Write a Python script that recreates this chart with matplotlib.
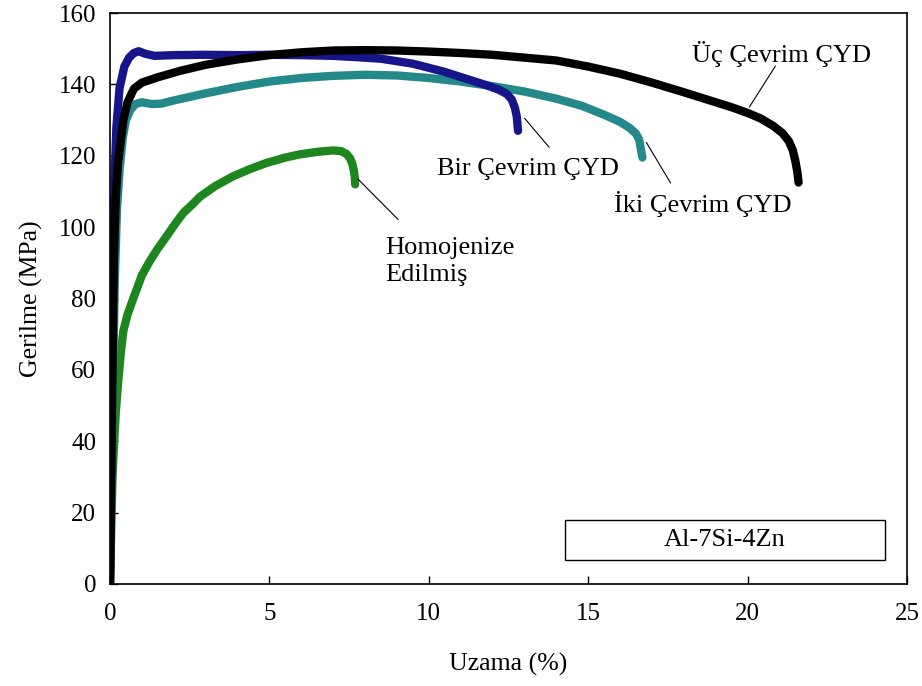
import numpy as np
import matplotlib.pyplot as plt
from matplotlib.patches import Rectangle

plt.rcParams['font.family'] = ['Liberation Serif', 'DejaVu Serif']

# Bir Cevrim CYD (blue)
bir_x = [0, 0.03, 0.06, 0.1, 0.15, 0.2, 0.3, 0.45, 0.6, 0.75, 0.9, 1.1, 1.4, 2, 3, 4, 5, 6, 7,
         7.8, 8.5, 9.5, 10.5, 11.2, 11.8, 12.2, 12.45, 12.6, 12.7, 12.76, 12.8]
bir_y = [0, 30, 60, 95, 115, 128, 139, 145, 147.5, 148.8, 149.3, 148.6, 148.0, 148.2, 148.3, 148.2,
         148.3, 148.2, 148, 147.6, 147.2, 145.8, 143.5, 141.5, 139.8, 138.5, 137.3, 135.8, 133.5,
         131, 127]

# Uc Cevrim CYD (black)
uc_x = [0, 0.04, 0.08, 0.12, 0.18, 0.25, 0.32, 0.42, 0.55, 0.75, 1.0, 1.5, 2.2, 3, 4, 5, 6, 7, 8, 9,
        10, 11, 12, 13, 14, 15, 16, 17, 18, 19, 19.5, 20, 20.4, 20.8, 21.1, 21.3, 21.42, 21.5,
        21.56, 21.6]
uc_y = [0, 30, 60, 90, 108, 118, 123, 130, 135, 138.8, 140.5, 142, 143.8, 145.5, 147, 148.2, 149,
        149.5, 149.6, 149.5, 149.2, 148.8, 148.3, 147.5, 146.7, 145, 143, 140.5, 137.8, 135, 133.6,
        132, 130.5, 128.4, 126.3, 124, 121.5, 118.5, 115.5, 112.5]

# Iki Cevrim CYD (teal)
iki_x = [0, 0.05, 0.1, 0.15, 0.22, 0.3, 0.4, 0.5, 0.65, 0.8, 1.0, 1.3, 1.6, 2, 3, 4, 5, 6, 7, 8, 9,
         10, 11, 12, 13, 14, 14.8, 15.5, 16, 16.3, 16.5, 16.6, 16.65, 16.7]
iki_y = [0, 30, 60, 85, 105, 116, 125, 130, 133, 134.5, 135, 134.5, 134.6, 135.5, 137.5, 139.3,
         140.8, 141.8, 142.4, 142.7, 142.5, 141.8, 140.8, 139.5, 138, 136, 134, 131.5, 129.5,
         127.8, 126.2, 124.5, 122, 119.5]

# Homojenize Edilmis (green)
hom_x = [0, 0.02, 0.05, 0.08, 0.12, 0.18, 0.25, 0.33, 0.42, 0.55, 0.73, 1.0, 1.25, 1.5, 1.78, 2.05,
         2.3, 2.6, 2.82, 3.3, 3.87, 4.4, 4.91, 5.5, 5.96, 6.5, 7.0, 7.25, 7.42, 7.53, 7.6, 7.65,
         7.68, 7.69]
hom_y = [0, 8, 20, 30, 38, 48, 56, 64, 71, 75.5, 80, 86.5, 90.5, 94, 97.5, 101, 104, 106.5, 108.5,
         111.5, 114.3, 116.3, 118, 119.5, 120.4, 121.1, 121.5, 121.3, 120.5, 119.3, 117.8, 115.8,
         113.8, 112]

fig = plt.figure(figsize=(9.22, 6.86), dpi=100)
ax = fig.add_axes([0.1193, 0.1487, 0.8644, 0.8323])

lw = 6
ax.plot(hom_x, hom_y, color='#1e861e', lw=lw, solid_capstyle='round', solid_joinstyle='round')
ax.plot(iki_x, iki_y, color='#23898b', lw=lw, solid_capstyle='round', solid_joinstyle='round')
ax.plot(bir_x, bir_y, color='#16168a', lw=lw, solid_capstyle='round', solid_joinstyle='round')
ax.plot(uc_x, uc_y, color='black', lw=lw, solid_capstyle='round', solid_joinstyle='round')

ax.set_xlim(0, 25)
ax.set_ylim(0, 160)
ax.set_xticks([0, 5, 10, 15, 20, 25])
ax.set_yticks(range(0, 161, 20))
ax.tick_params(direction='in', length=6, width=1, labelsize=18, top=False, right=False)
ax.tick_params(axis='x', pad=14)
ax.tick_params(axis='y', pad=10)
for s in ax.spines.values():
    s.set_linewidth(1.2)

ax.set_xlabel('Uzama (%)', fontsize=18.5, labelpad=20)
ax.set_ylabel('Gerilme (MPa)', fontsize=18.5, labelpad=11)

fs = 19
line_kw = dict(arrowstyle='-', lw=0.8, color='black')
ax.text(21.07, 148.5, 'Üç Çevrim ÇYD', fontsize=fs, ha='center', va='center')
ax.annotate('', xy=(20.01, 133.0), xytext=(20.92, 145.8), arrowprops=line_kw)

ax.text(13.1, 116.2, 'Bir Çevrim ÇYD', fontsize=fs, ha='center', va='center')
ax.annotate('', xy=(12.95, 131.1), xytext=(13.83, 121.8), arrowprops=line_kw)

ax.text(18.6, 106.4, 'İki Çevrim ÇYD', fontsize=fs, ha='center', va='center')
ax.annotate('', xy=(16.78, 124.4), xytext=(17.63, 111.7), arrowprops=line_kw)

ax.text(8.63, 90.4, 'Homojenize\nEdilmiş', fontsize=fs, ha='left', va='center', linespacing=1.3)
ax.annotate('', xy=(7.72, 114.0), xytext=(9.1, 101.6), arrowprops=line_kw)

ax.add_patch(Rectangle((14.27, 6.7), 10.03, 11.3, fill=False, edgecolor='black', lw=1))
ax.text(19.28, 12.35, 'Al-7Si-4Zn', fontsize=fs, ha='center', va='center')

fig.savefig('out.png', dpi=100)
